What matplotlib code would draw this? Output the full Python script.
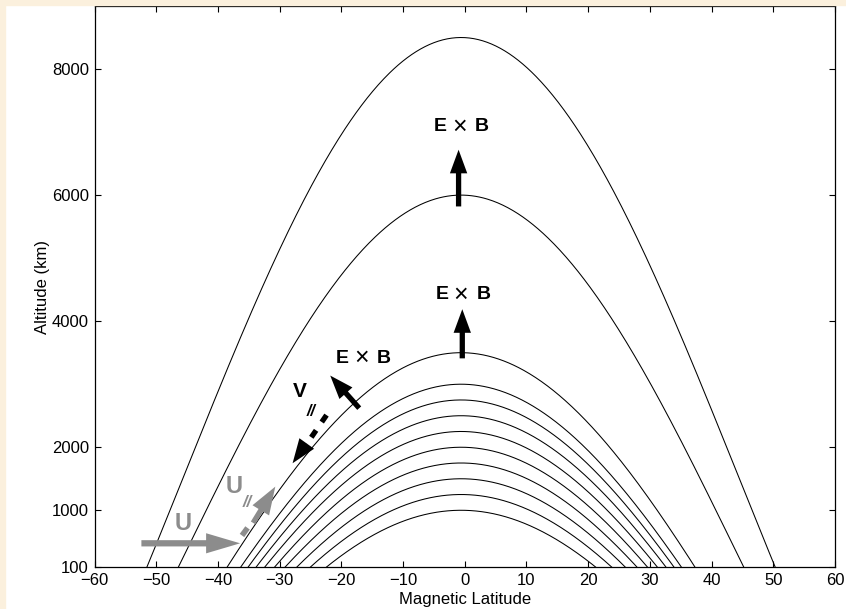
import numpy as np
import matplotlib
matplotlib.use("Agg")
import matplotlib.pyplot as plt
from matplotlib.patches import FancyArrowPatch, Rectangle

plt.rcParams['font.family'] = ['Liberation Sans', 'DejaVu Sans']

# field lines: apex altitude (km) and footpoint half-width (deg) at 100 km
apex_alt = [1000, 1250, 1500, 1750, 2000, 2250, 2500, 2750, 3000, 3500, 6000, 8500]
foot_lat = [21.8, 24.4, 26.6, 28.5, 30.2, 31.8, 33.2, 34.5, 35.7, 37.9, 45.8, 50.9]
center_lat = -0.6

xticks = list(range(-60, 61, 10))
yticks = [100, 1000, 2000, 4000, 6000, 8000]

BLACK = 'black'
GRAY = '#8c8c8c'
PX = 0.72  # points per pixel at dpi 100

fig = plt.figure(figsize=(8.46, 6.09), dpi=100)
fig.patch.set_facecolor('white')
# thin cream strips at the top and left edge of the original image
fig.patches.append(Rectangle((0, 0), 5 / 846, 1, transform=fig.transFigure,
                             color='#fbf0dd', zorder=0))
fig.patches.append(Rectangle((0, 1 - 5 / 609), 1, 5 / 609, transform=fig.transFigure,
                             color='#fbf0dd', zorder=0))

ax = fig.add_axes([94.5 / 846, 1 - 567 / 609, (835 - 94.5) / 846, (567 - 6) / 609])

for h, w in zip(apex_alt, foot_lat):
    # dipole-like line through the apex and the footpoint
    c2 = np.cos(np.radians(w)) ** 2
    R = (h * c2 - 100) / (1 - c2)
    lam = np.linspace(-w - 3, w + 3, 600)
    alt = (R + h) * np.cos(np.radians(lam)) ** 2 - R
    ax.plot(lam + center_lat, alt, color=BLACK, lw=0.75)

ax.set_xlim(-60, 60)
ax.set_ylim(100, 9000)
ax.set_xticks(xticks)
ax.set_yticks(yticks)
ax.tick_params(direction='in', top=True, right=True, length=4, width=0.8,
               labelsize=12, pad=4)
for s in ax.spines.values():
    s.set_linewidth(0.9)
ax.set_xlabel('Magnetic Latitude', fontsize=12, labelpad=3)
ax.set_ylabel('Altitude (km)', fontsize=12, labelpad=1)


def arrow(p0, p1, color, tail=0.38, hw=1.25, hl=1.7):
    a = FancyArrowPatch(p0, p1, mutation_scale=10, color=color, lw=0,
                        arrowstyle=f'simple,tail_width={tail},head_width={hw},head_length={hl}',
                        shrinkA=0, shrinkB=0, zorder=5)
    ax.add_patch(a)


def exb(x, y):
    # bold E and B around a thin cross
    kw = dict(textcoords='offset points', ha='center', va='center')
    ax.annotate('E', (x, y), xytext=(-19 * PX, 0), fontweight='bold', fontsize=14, **kw)
    ax.annotate('×', (x, y), xytext=(0, 0), fontweight='normal', fontsize=18, **kw)
    ax.annotate('B', (x, y), xytext=(23 * PX, 0), fontweight='bold', fontsize=14, **kw)


# E x B arrows
arrow((-1.0, 5820), (-1.0, 6720), BLACK)
exb(-0.9, 7090)
arrow((-0.4, 3410), (-0.4, 4190), BLACK)
exb(-0.6, 4420)
arrow((-17.1, 2620), (-21.8, 3137), BLACK)
exb(-16.8, 3413)

# V// dashed arrow
ax.plot([-22.4, -25.2], [2510, 2110], color=BLACK, lw=3.8,
        linestyle=(0, (1.6, 1.9)), solid_capstyle='butt', dash_capstyle='butt')
arrow((-25.6, 2060), (-27.9, 1746), BLACK, tail=0.1, hw=1.3, hl=1.75)
ax.text(-26.7, 2883, 'V', fontsize=15, fontweight='bold', ha='center', va='center')
ax.text(-24.9, 2565, '//', fontsize=11.5, fontweight='bold', fontstyle='italic',
        ha='center', va='center')

# U horizontal arrow and U// dashed arrow
arrow((-52.4, 476), (-36.4, 476), GRAY, tail=0.45, hw=1.45, hl=2.45)
ax.text(-45.6, 790, 'U', fontsize=17, fontweight='bold', color=GRAY,
        ha='center', va='center')
ax.plot([-36.1, -35.2], [600, 720], color=GRAY, lw=4, solid_capstyle='butt')
arrow((-34.3, 800), (-30.7, 1375), GRAY, tail=0.38, hw=1.4, hl=2.0)
ax.text(-37.4, 1370, 'U', fontsize=17, fontweight='bold', color=GRAY,
        ha='center', va='center')
ax.text(-35.2, 1120, '//', fontsize=12, fontweight='bold', fontstyle='italic',
        color=GRAY, ha='center', va='center')

fig.savefig('out.png', dpi=100)
